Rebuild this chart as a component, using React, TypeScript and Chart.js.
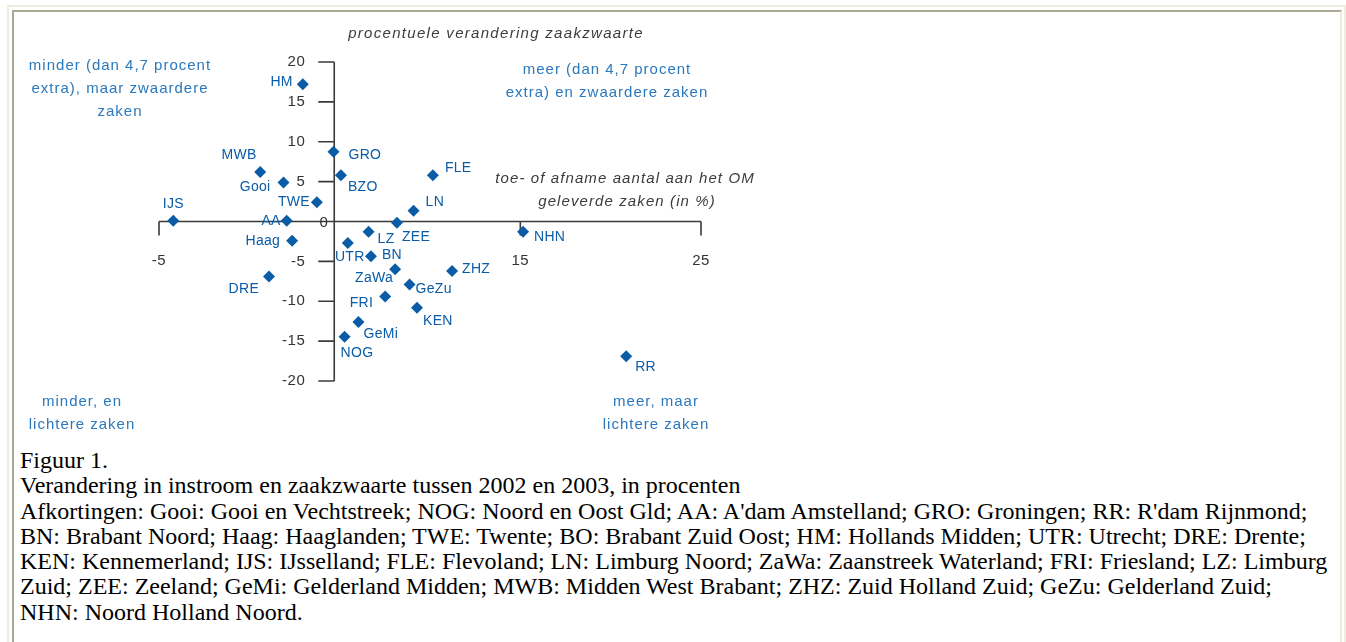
import React, { useEffect, useRef } from "react";
import { Chart, registerables } from "chart.js";

Chart.register(...registerables);

// ---- data ----
const regions = ["HM", "GRO", "MWB", "Gooi", "BZO", "FLE", "TWE", "LN", "IJS", "AA", "ZEE", "LZ", "Haag", "UTR", "BN", "ZaWa", "ZHZ", "GeZu", "DRE", "FRI", "KEN", "GeMi", "NOG", "NHN", "RR"];
// toe- of afname aantal aan het OM geleverde zaken (in %)
const instroomChange = [2.96, 4.66, 0.6, 1.89, 5.07, 10.16, 3.74, 9.09, -4.21, 2.07, 8.17, 6.6, 2.37, 5.45, 6.73, 8.07, 11.22, 8.87, 1.09, 7.52, 9.28, 6.04, 5.27, 15.15, 20.86];
// procentuele verandering zaakzwaarte
const zaakzwaarteChange = [17.2, 8.75, 6.2, 4.9, 5.8, 5.8, 2.4, 1.35, 0.1, 0.1, -0.15, -1.3, -2.4, -2.7, -4.35, -6.0, -6.2, -7.9, -6.9, -9.4, -10.8, -12.6, -14.45, -1.3, -16.9];
const xTicks = [-5, 15, 25];
const yTicks = [20, 15, 10, 5, -5, -10, -15, -20];
const yAxisCrossing = 4.7; // gemiddelde groei
const xAxisTitle = ["toe- of afname aantal aan het OM", "geleverde zaken (in %)"];
const yAxisTitle = "procentuele verandering zaakzwaarte";
const quadrantTexts = [
  ["minder (dan 4,7 procent", "extra), maar zwaardere", "zaken"],
  ["meer (dan 4,7 procent", "extra) en zwaardere zaken"],
  ["minder, en", "lichtere zaken"],
  ["meer, maar", "lichtere zaken"],
];
const captionLines = [
  "Figuur 1.",
  "Verandering in instroom en zaakzwaarte tussen 2002 en 2003, in procenten",
  "Afkortingen: Gooi: Gooi en Vechtstreek; NOG: Noord en Oost Gld; AA: A'dam Amstelland; GRO: Groningen; RR: R'dam Rijnmond;",
  "BN: Brabant Noord; Haag: Haaglanden; TWE: Twente; BO: Brabant Zuid Oost; HM: Hollands Midden; UTR: Utrecht; DRE: Drente;",
  "KEN: Kennemerland; IJS: IJsselland; FLE: Flevoland; LN: Limburg Noord; ZaWa: Zaanstreek Waterland; FRI: Friesland; LZ: Limburg",
  "Zuid; ZEE: Zeeland; GeMi: Gelderland Midden; MWB: Midden West Brabant; ZHZ: Zuid Holland Zuid; GeZu: Gelderland Zuid;",
  "NHN: Noord Holland Noord.",
];

// ---- label placement (layout, not data): [align, dx, dy] ----
const labelPlacement: [CanvasTextAlign, number, number][] = [
  ["right", -10, -2], ["left", 15, 3], ["center", -21, -17], ["right", -13, 5], ["left", 7, 12],
  ["left", 12, -7], ["right", -7, 0], ["left", 12, -9], ["center", 0, -17], ["right", -6, 0],
  ["left", 5, 14], ["left", 9, 7], ["right", -12, 1], ["center", 2, 14], ["left", 11, -1],
  ["right", -2, 9], ["left", 10, -2], ["left", 6, 5], ["right", -10, 13], ["right", -12, 7],
  ["left", 6, 14], ["left", 5, 12], ["left", -4, 16], ["left", 11, 5], ["left", 9, 11],
];
const quadrantPlacement: [number, number][] = [[120, 66], [607, 70], [82, 402], [656, 402]];

const POINT_BLUE = "#0a5ca6";
const TEXT_BLUE = "#2a78bd";
const AXIS = "#3a3a3a";
const FONT = "'Liberation Sans', Arial, sans-serif";

const crossAxesPlugin = {
  id: "crossAxes",
  beforeDatasetsDraw(chart: any) {
    const { ctx, scales } = chart;
    const xs = scales.x, ys = scales.y;
    const y0 = ys.getPixelForValue(0);
    const xc = xs.getPixelForValue(yAxisCrossing);
    ctx.save();
    ctx.strokeStyle = AXIS;
    ctx.lineWidth = 1.6;
    // x axis
    ctx.beginPath();
    ctx.moveTo(xs.getPixelForValue(xs.min), y0);
    ctx.lineTo(xs.getPixelForValue(xs.max), y0);
    xTicks.forEach((v) => {
      const px = xs.getPixelForValue(v);
      ctx.moveTo(px, y0);
      ctx.lineTo(px, y0 + 14);
    });
    // y axis
    ctx.moveTo(xc, ys.getPixelForValue(ys.max));
    ctx.lineTo(xc, ys.getPixelForValue(ys.min));
    yTicks.forEach((v) => {
      const py = ys.getPixelForValue(v);
      ctx.moveTo(xc, py);
      ctx.lineTo(xc - 16, py);
    });
    ctx.stroke();

    ctx.fillStyle = "#333";
    ctx.font = `15px ${FONT}`;
    ctx.textBaseline = "middle";
    (ctx as any).letterSpacing = "0.5px";
    ctx.textAlign = "center";
    xTicks.forEach((v) => ctx.fillText(String(v), xs.getPixelForValue(v), y0 + 39));
    ctx.textAlign = "right";
    yTicks.forEach((v) => ctx.fillText(String(v), xc - 29, ys.getPixelForValue(v)));
    ctx.fillText("0", xc - 6, y0 + 1);

    // axis titles
    ctx.font = `italic 15px ${FONT}`;
    ctx.fillStyle = "#3c3c3c";
    ctx.textAlign = "center";
    (ctx as any).letterSpacing = "1.3px";
    ctx.fillText(yAxisTitle, 496, 34);
    (ctx as any).letterSpacing = "1.1px";
    ctx.fillText(xAxisTitle[0], 625, 179);
    ctx.fillText(xAxisTitle[1], 627, 202);

    // quadrant texts
    ctx.font = `15px ${FONT}`;
    ctx.fillStyle = TEXT_BLUE;
    (ctx as any).letterSpacing = "1px";
    quadrantTexts.forEach((lines, qi) => {
      const [cx, cy] = quadrantPlacement[qi];
      lines.forEach((t, li) => ctx.fillText(t, cx, cy + li * 23));
    });
    ctx.restore();
  },
  afterDatasetsDraw(chart: any) {
    const { ctx } = chart;
    const meta = chart.getDatasetMeta(0);
    ctx.save();
    ctx.font = `14px ${FONT}`;
    ctx.fillStyle = POINT_BLUE;
    ctx.textBaseline = "middle";
    (ctx as any).letterSpacing = "0.3px";
    meta.data.forEach((el: any, i: number) => {
      const [align, dx, dy] = labelPlacement[i];
      ctx.textAlign = align;
      ctx.fillText(regions[i], el.x + dx, el.y + dy);
    });
    ctx.restore();
  },
};

function ScatterChart() {
  const ref = useRef<HTMLCanvasElement | null>(null);
  useEffect(() => {
    if (!ref.current) return;
    const chart = new Chart(ref.current, {
      type: "scatter",
      data: {
        datasets: [
          {
            data: regions.map((_, i) => ({ x: instroomChange[i], y: zaakzwaarteChange[i] })),
            pointStyle: "rectRot",
            pointRadius: 6,
            pointHoverRadius: 6,
            backgroundColor: POINT_BLUE,
            borderColor: POINT_BLUE,
            borderWidth: 0,
            clip: false as any,
          },
        ],
      },
      options: {
        animation: false,
        responsive: false,
        maintainAspectRatio: false,
        layout: { padding: { left: 159, right: 645, top: 62, bottom: 59 } },
        scales: {
          x: { type: "linear", min: -5, max: 25, display: false },
          y: { type: "linear", min: -20, max: 20, display: false },
        },
        plugins: { legend: { display: false }, tooltip: { enabled: false } },
        events: [],
      },
      plugins: [crossAxesPlugin],
    });
    return () => chart.destroy();
  }, []);
  return (
    <canvas
      ref={ref}
      width={1346}
      height={440}
      style={{ position: "absolute", left: 0, top: 0, width: 1346, height: 440 }}
    />
  );
}

export default function App() {
  return (
    <div style={{ position: "absolute", left: 0, top: 0, width: 1346, height: 642, overflow: "hidden", background: "#fff" }}>
      <div style={{ position: "absolute", left: 7, top: 5, width: 1335, height: 700, borderTop: "2px solid #f0ede0", borderLeft: "2px solid #f0ede0", borderRight: "2px solid #f0ede0" }} />
      <div style={{ position: "absolute", left: 12, top: 10, width: 1326, height: 700, borderTop: "2px solid #aba896", borderLeft: "2px solid #aba896", borderRight: "2px solid #eeebdc" }} />
      <ScatterChart />
      <div style={{ position: "absolute", left: 20, top: 448, fontFamily: "'Liberation Serif', 'Times New Roman', serif", fontSize: 24, lineHeight: "25.3px", color: "#000", whiteSpace: "nowrap" }}>
        {captionLines.map((l, i) => (
          <div key={i}>{l}</div>
        ))}
      </div>
    </div>
  );
}
